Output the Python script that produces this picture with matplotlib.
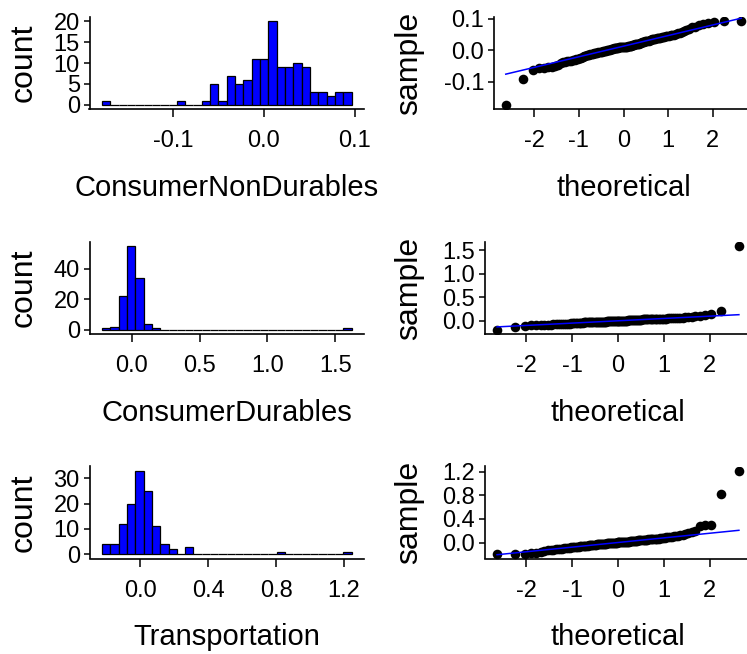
import numpy as np
import matplotlib
matplotlib.use("Agg")
import matplotlib.pyplot as plt
import matplotlib.transforms as mtransforms
from statistics import NormalDist

# monthly returns (sorted) for the three industries
non_durables = [
    -0.174, -0.092, -0.064,
    -0.058, -0.056, -0.055, -0.053, -0.051, -0.046,
    -0.040, -0.039, -0.038, -0.036, -0.035, -0.034, -0.033,
    -0.030, -0.029, -0.027, -0.026, -0.024,
    -0.021, -0.020, -0.019, -0.017, -0.016, -0.015,
    -0.0125, -0.012, -0.011, -0.010, -0.0095, -0.009, -0.008, -0.007, -0.006, -0.0055, -0.005,
    -0.0038, -0.003, -0.0025, -0.002, -0.001, 0.000, 0.001, 0.0015, 0.002, 0.003, 0.004,
    0.0055, 0.006, 0.0065, 0.007, 0.0075, 0.008, 0.0085, 0.009, 0.0093, 0.0096,
    0.010, 0.0103, 0.0106, 0.011, 0.0114, 0.0118, 0.012, 0.0125, 0.013, 0.0135,
    0.015, 0.016, 0.017, 0.018, 0.0185, 0.019, 0.020, 0.021, 0.022,
    0.024, 0.025, 0.026, 0.027, 0.0275, 0.028, 0.029, 0.030, 0.031,
    0.033, 0.034, 0.035, 0.036, 0.0365, 0.037, 0.038, 0.039, 0.040, 0.041,
    0.042, 0.043, 0.044, 0.045, 0.046, 0.047, 0.048, 0.049, 0.050,
    0.053, 0.055, 0.058, 0.062, 0.064, 0.067, 0.072, 0.075,
    0.080, 0.083, 0.086, 0.089, 0.091, 0.092,
]

durables = [
    -0.190, -0.140, -0.115,
    -0.095, -0.090, -0.087, -0.084, -0.081, -0.078, -0.075, -0.072, -0.070, -0.068,
    -0.065, -0.063, -0.061, -0.059, -0.057, -0.055, -0.052, -0.050, -0.048, -0.045,
    -0.042, -0.039,
    -0.036, -0.035, -0.034, -0.033, -0.032, -0.031, -0.030, -0.029, -0.028, -0.027,
    -0.026, -0.025, -0.024, -0.023, -0.022, -0.021, -0.020, -0.019, -0.018, -0.017,
    -0.016, -0.015, -0.014, -0.013, -0.012, -0.011, -0.010, -0.009, -0.008, -0.007,
    -0.006, -0.005, -0.004, -0.003, -0.002, -0.001, 0.000, 0.001, 0.002, 0.003,
    0.004, 0.005, 0.006, 0.007, 0.008, 0.009, 0.010, 0.011, 0.012, 0.013,
    0.014, 0.015, 0.017, 0.019, 0.021,
    0.026, 0.027, 0.028, 0.029, 0.030, 0.031, 0.032, 0.033, 0.034, 0.035,
    0.036, 0.037, 0.038, 0.039, 0.040, 0.041, 0.042, 0.043, 0.044, 0.045,
    0.046, 0.048, 0.050, 0.052, 0.054, 0.056, 0.058, 0.060, 0.063, 0.066,
    0.070, 0.074, 0.078, 0.083,
    0.095, 0.110, 0.125, 0.140, 0.200, 1.589,
]

transport = [
    -0.200, -0.195, -0.188, -0.180, -0.170, -0.160, -0.148, -0.135,
    -0.124, -0.120, -0.116, -0.112, -0.108, -0.104, -0.100, -0.096, -0.092, -0.088,
    -0.084, -0.080,
    -0.076, -0.073, -0.071, -0.069, -0.066, -0.064, -0.061, -0.059, -0.056, -0.054,
    -0.052, -0.049, -0.047, -0.044, -0.042, -0.040, -0.037, -0.035, -0.033, -0.031,
    -0.028, -0.026, -0.025, -0.023, -0.022, -0.020, -0.019, -0.017, -0.016, -0.014,
    -0.013, -0.011, -0.010, -0.008, -0.007, -0.005, -0.004, -0.002, -0.001, 0.001,
    0.002, 0.004, 0.005, 0.007, 0.008, 0.010, 0.011, 0.012, 0.013, 0.014,
    0.015, 0.016, 0.018,
    0.021, 0.023, 0.025, 0.027, 0.029, 0.031, 0.033, 0.035, 0.037, 0.039,
    0.041, 0.043, 0.045, 0.047, 0.049, 0.051, 0.053, 0.055, 0.057, 0.059,
    0.061, 0.063, 0.065, 0.066, 0.067,
    0.071, 0.075, 0.079, 0.083, 0.087, 0.091, 0.095, 0.099, 0.104, 0.109, 0.114,
    0.122, 0.132, 0.145, 0.158, 0.180, 0.200,
    0.285, 0.295, 0.305, 0.82, 1.22,
]

series = [non_durables, durables, transport]
names = ["ConsumerNonDurables", "ConsumerDurables", "Transportation"]

hist_xticks = [[-0.1, 0.0, 0.1], [0.0, 0.5, 1.0, 1.5], [0.0, 0.4, 0.8, 1.2]]
hist_xlabels = [["-0.1", "0.0", "0.1"], ["0.0", "0.5", "1.0", "1.5"], ["0.0", "0.4", "0.8", "1.2"]]
hist_yticks = [[0, 5, 10, 15, 20], [0, 20, 40], [0, 10, 20, 30]]
qq_xticks = [-2, -1, 0, 1, 2]
qq_yticks = [[-0.1, 0.0, 0.1], [0.0, 0.5, 1.0, 1.5], [0.0, 0.4, 0.8, 1.2]]
qq_ylabels = [["-0.1", "0.0", "0.1"], ["0.0", "0.5", "1.0", "1.5"], ["0.0", "0.4", "0.8", "1.2"]]

plt.rcParams['font.family'] = ['Liberation Sans', 'DejaVu Sans']
plt.rcParams['axes.unicode_minus'] = False

W, H = 747, 654
fig = plt.figure(figsize=(W / 100, H / 100), dpi=100)

# panel boxes in pixels: (top, bottom) per row, (left, right) per column
rows = [(17, 109), (242, 334), (466.5, 558.5)]
hist_lr = (89.5, 364)
qq_lr = [(494, 753), (485, 751), (485, 751)]
xlabel_top = [174, 399, 623]


def make_ax(lr, tb):
    l, r = lr
    t, b = tb
    return fig.add_axes([l / W, 1 - b / H, (r - l) / W, (b - t) / H])


def style(ax):
    for s in ['top', 'right']:
        ax.spines[s].set_visible(False)
    for s in ['left', 'bottom']:
        ax.spines[s].set_linewidth(1.2)
    ax.tick_params(axis='x', length=5.8, width=1.1, pad=9.5, labelsize=17)
    ax.tick_params(axis='y', length=4.5, width=1.1, pad=2.5, labelsize=17)


nd = NormalDist()
for i, vals in enumerate(series):
    vals = np.array(vals)
    tb = rows[i]

    # histogram, 30 bins like ggplot's default
    ax = make_ax(hist_lr, tb)
    w = (vals.max() - vals.min()) / 29
    edges = vals.min() - w / 2 + w * np.arange(31)
    counts, _ = np.histogram(vals, edges)
    ax.bar(edges[:-1], counts, width=w, align='edge', color='#0000FF',
           edgecolor='black', linewidth=0.9)
    span = edges[-1] - edges[0]
    ax.set_xlim(edges[0] - 0.05 * span, edges[-1] + 0.05 * span)
    ax.set_ylim(-0.05 * counts.max(), 1.05 * counts.max())
    ax.set_xticks(hist_xticks[i])
    ax.set_xticklabels(hist_xlabels[i])
    ax.set_yticks(hist_yticks[i])
    style(ax)
    ax.set_xlabel(names[i], fontsize=21)
    ax.set_ylabel("count", fontsize=23)
    ax.xaxis.set_label_coords(0.5, 1 - xlabel_top[i] / H,
                              transform=mtransforms.blended_transform_factory(ax.transAxes, fig.transFigure))
    ax.yaxis.set_label_coords(39 / W, 0.5,
                              transform=mtransforms.blended_transform_factory(fig.transFigure, ax.transAxes))

    # normal QQ plot
    ax = make_ax(qq_lr[i], tb)
    n = len(vals)
    theo = np.array([nd.inv_cdf((k - 0.5) / n) for k in range(1, n + 1)])
    samp = np.sort(vals)
    ax.scatter(theo, samp, s=48, color='black', linewidths=0, zorder=2)
    q25, q75 = np.percentile(vals, [25, 75])
    t25, t75 = nd.inv_cdf(0.25), nd.inv_cdf(0.75)
    slope = (q75 - q25) / (t75 - t25)
    icpt = q25 - slope * t25
    xl = np.array([theo[0], theo[-1]])
    ax.plot(xl, icpt + slope * xl, color='#0000FF', linewidth=1.1, zorder=3)
    xs = theo[-1] - theo[0]
    ax.set_xlim(theo[0] - 0.05 * xs, theo[-1] + 0.05 * xs)
    ys = samp[-1] - samp[0]
    ax.set_ylim(samp[0] - 0.05 * ys, samp[-1] + 0.05 * ys)
    ax.set_xticks(qq_xticks)
    ax.set_xticklabels([str(t) for t in qq_xticks])
    ax.set_yticks(qq_yticks[i])
    ax.set_yticklabels(qq_ylabels[i])
    style(ax)
    ax.set_xlabel("theoretical", fontsize=21)
    ax.set_ylabel("sample", fontsize=23)
    ax.xaxis.set_label_coords(0.5, 1 - xlabel_top[i] / H,
                              transform=mtransforms.blended_transform_factory(ax.transAxes, fig.transFigure))
    ax.yaxis.set_label_coords(424 / W, 0.5,
                              transform=mtransforms.blended_transform_factory(fig.transFigure, ax.transAxes))

fig.savefig("out.png", dpi=100)
